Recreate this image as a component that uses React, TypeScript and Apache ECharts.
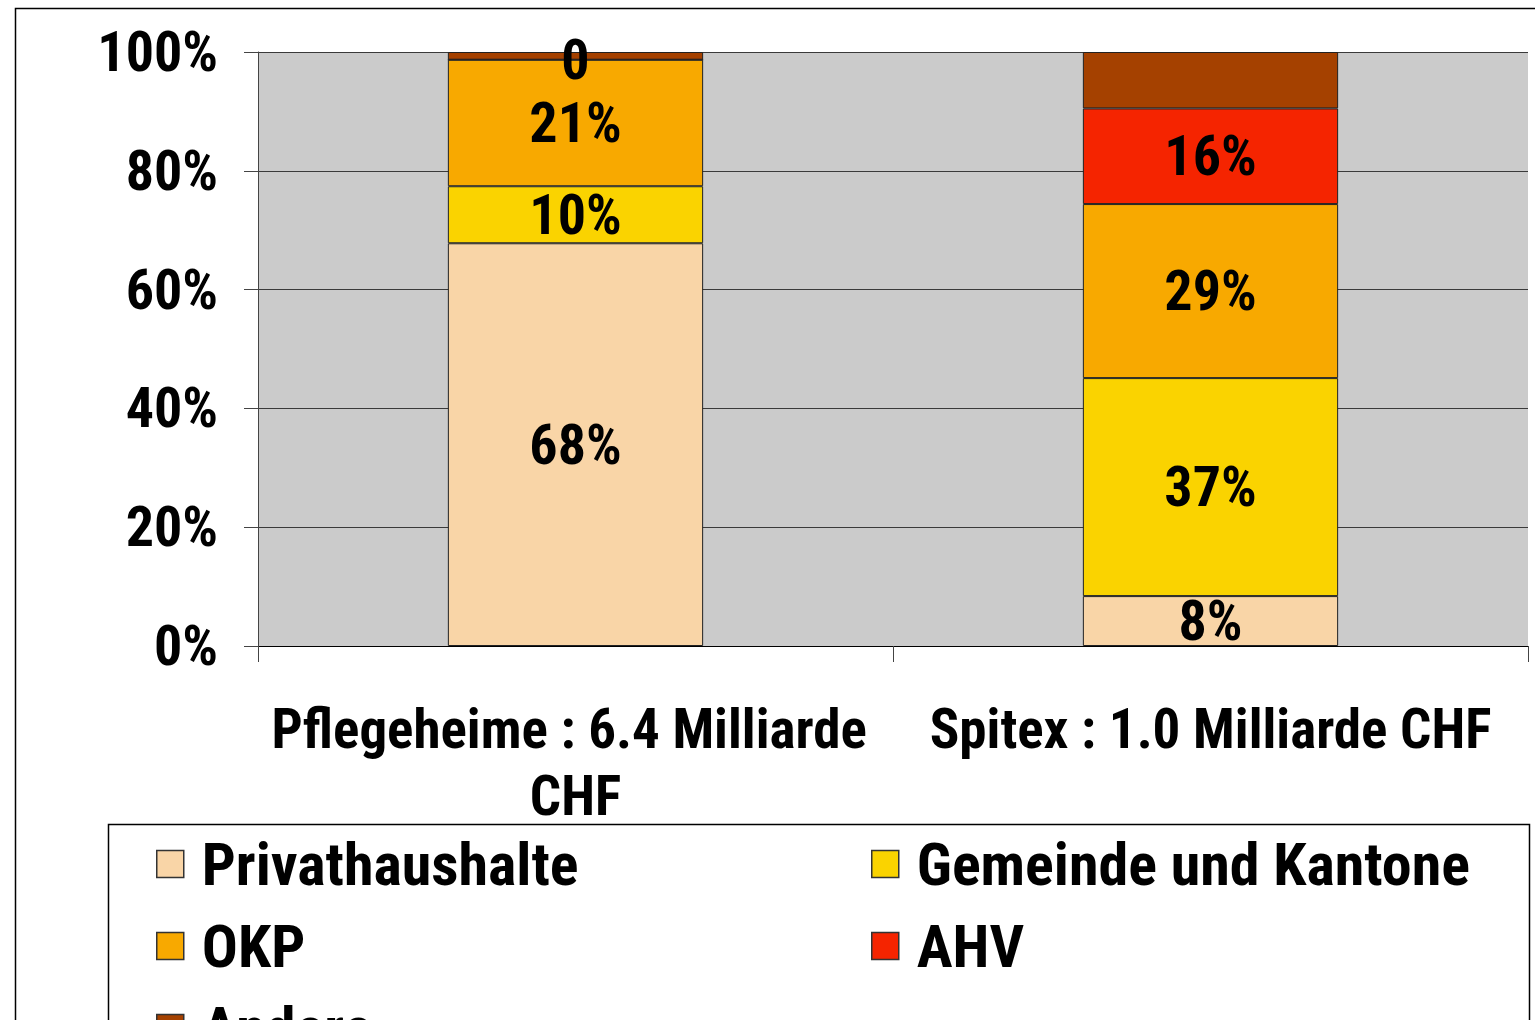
import React, { useEffect, useRef } from "react";
import * as echarts from "echarts";

const categories = ["Pflegeheime : 6.4 Milliarde CHF", "Spitex : 1.0 Milliarde CHF"];
const seriesNames = ["Privathaushalte", "Gemeinde und Kantone", "OKP", "AHV", "Andere"];
const privathaushalte = [67.8, 8.4];
const gemeinde = [9.6, 36.7];
const okp = [21.3, 29.3];
const ahv = [0, 16.1];
const andere = [1.3, 9.5];
const colors = ["#F9D5A7", "#FAD300", "#F8A900", "#F52400", "#A54100"];
const yTicks = [0, 20, 40, 60, 80, 100];

const FONT = "'Roboto Condensed', 'Open Sans Condensed', sans-serif";

export default function App() {
  const ref = useRef<HTMLDivElement>(null);
  useEffect(() => {
    if (!ref.current) return;
    const chart = echarts.init(ref.current, null, { renderer: "svg" });
    const values = [privathaushalte, gemeinde, okp, ahv, andere];
    const series = seriesNames.map((name, i) => ({
      name,
      type: "bar",
      stack: "total",
      barWidth: "40.2%",
      data: values[i],
      itemStyle: { color: colors[i], borderColor: "#222", borderWidth: 1 },
      label: {
        show: name !== "Andere",
        position: "inside",
        fontFamily: FONT,
        fontSize: 56,
        fontWeight: "bold",
        color: "#000",
        formatter: (p: any) => (p.value === 0 ? "0" : Math.round(p.value) + "%"),
      },
    }));
    const legendText = {
      fontFamily: FONT,
      fontSize: 60,
      fontWeight: "bold",
      color: "#000",
      lineHeight: 60,
      padding: [0, 0, 0, 13],
    };
    const legendBase = {
      orient: "vertical",
      top: 829,
      height: 400,
      itemWidth: 27,
      itemHeight: 27,
      itemGap: 22,
      icon: "rect",
      itemStyle: { borderColor: "#333", borderWidth: 1.5 },
      textStyle: legendText,
      selectedMode: false,
    };
    chart.setOption({
      animation: false,
      backgroundColor: "#fff",
      grid: {
        left: 258,
        right: 7,
        top: 52,
        bottom: 374,
        show: true,
        backgroundColor: "#CBCBCB",
        borderWidth: 0,
      },
      xAxis: {
        type: "category",
        data: categories,
        axisLine: { lineStyle: { color: "#000", width: 1 } },
        axisTick: { show: true, length: 16, lineStyle: { color: "#444" } },
        axisLabel: {
          interval: 0,
          margin: 49,
          width: 630,
          overflow: "break",
          lineHeight: 67,
          fontFamily: FONT,
          fontSize: 55,
          fontWeight: "bold",
          color: "#000",
        },
      },
      yAxis: {
        type: "value",
        min: yTicks[0],
        max: yTicks[yTicks.length - 1],
        interval: 20,
        axisLine: { show: true, lineStyle: { color: "#444" } },
        axisTick: { show: true, length: 14, lineStyle: { color: "#444" } },
        splitLine: { show: true, lineStyle: { color: "#3a3a3a", width: 1 } },
        axisLabel: {
          margin: 40,
          formatter: "{value}%",
          fontFamily: FONT,
          fontSize: 56,
          fontWeight: "bold",
          color: "#000",
        },
      },
      legend: [
        { ...legendBase, data: ["Privathaushalte", "OKP", "Andere"], left: 151 },
        { ...legendBase, data: ["Gemeinde und Kantone", "AHV"], left: 866 },
      ],
      graphic: [
        {
          type: "rect",
          left: 13,
          top: 6,
          shape: { width: 1600, height: 1100 },
          style: { fill: "none", stroke: "#000", lineWidth: 1.5 },
          silent: true,
        },
        {
          type: "rect",
          left: 106,
          top: 822,
          shape: { width: 1421, height: 300 },
          style: { fill: "none", stroke: "#000", lineWidth: 1.5 },
          silent: true,
        },
      ],
      series,
    });
    return () => chart.dispose();
  }, []);
  return (
    <div
      ref={ref}
      style={{ position: "absolute", left: 0, top: 0, width: 1535, height: 1020 }}
    />
  );
}
